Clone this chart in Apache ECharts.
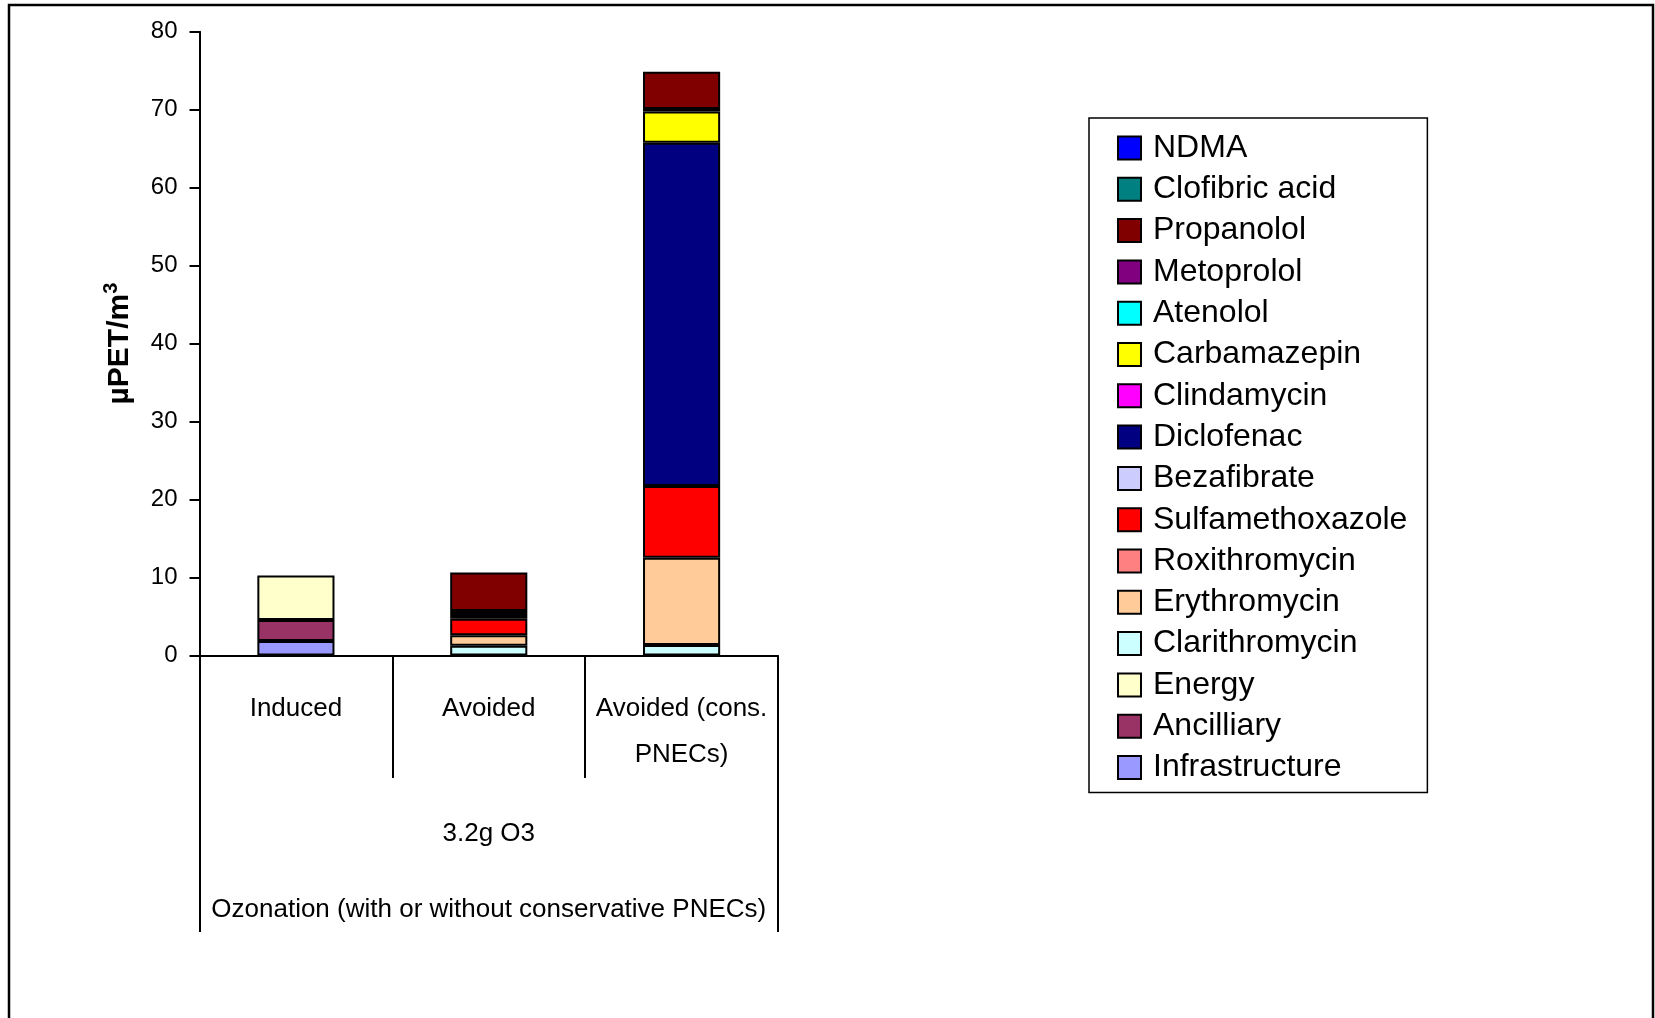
<!DOCTYPE html>
<html>
<head>
<meta charset="utf-8">
<script src="https://cdn.jsdelivr.net/npm/echarts@6/dist/echarts.min.js"></script>
<style>
  html, body { margin: 0; padding: 0; background: #fff; }
  #myechart { width: 1655px; height: 1018px; }
</style>
</head>
<body>
<div id="myechart"></div>
<script>
// categories (three levels on the x axis)
let categories = ["Induced", "Avoided", "Avoided (cons.\nPNECs)"];
let groupLabel = ["3.2g O3"];
let outerLabel = ["Ozonation (with or without conservative PNECs)"];

// y axis ticks
let yMin = 0;
let yMax = 80;
let yStep = 10;

// stacked values, bottom to top (null = nothing for that bar)
let infrastructure = [1.85, null, null];
let ancilliary = [2.7, null, null];
let energy = [5.7, null, null];
let clarithromycin = [null, 1.25, 1.35];
let erythromycin = [null, 1.35, 11.2];
let roxithromycin = [null, null, null];
let sulfamethoxazole = [null, 2.1, 9.2];
let bezafibrate = [null, null, null];
let diclofenac = [null, 0.5, 44.0];
let clindamycin = [null, null, null];
let carbamazepin = [null, 0.5, 4.0];
let atenolol = [null, null, null];
let metoprolol = [null, null, 0.35];
let propanolol = [null, 4.95, 4.75];
let clofibricAcid = [null, null, null];
let ndma = [null, null, null];

let font = "'Liberation Sans', Arial, sans-serif";

let stackList = [
    ["Infrastructure", infrastructure, "#9999FF"],
    ["Ancilliary", ancilliary, "#993366"],
    ["Energy", energy, "#FFFFCC"],
    ["Clarithromycin", clarithromycin, "#CCFFFF"],
    ["Erythromycin", erythromycin, "#FFCC99"],
    ["Roxithromycin", roxithromycin, "#FF8080"],
    ["Sulfamethoxazole", sulfamethoxazole, "#FF0000"],
    ["Bezafibrate", bezafibrate, "#CCCCFF"],
    ["Diclofenac", diclofenac, "#000080"],
    ["Clindamycin", clindamycin, "#FF00FF"],
    ["Carbamazepin", carbamazepin, "#FFFF00"],
    ["Atenolol", atenolol, "#00FFFF"],
    ["Metoprolol", metoprolol, "#800080"],
    ["Propanolol", propanolol, "#800000"],
    ["Clofibric acid", clofibricAcid, "#008080"],
    ["NDMA", ndma, "#0000FF"]
];

let series = stackList.map(function (s) {
    return {
        name: s[0],
        type: "bar",
        stack: "total",
        barWidth: "40%",
        xAxisIndex: 0,
        data: s[1],
        itemStyle: { color: s[2], borderColor: "#000", borderWidth: 2 }
    };
});

// legend lists top of stack first
let legendData = stackList.map(function (s) { return s[0]; }).reverse();

let option = {
    animation: false,
    backgroundColor: "#fff",
    graphic: [
        {
            type: "rect",
            shape: { x: 9, y: 5, width: 1644, height: 1040 },
            style: { fill: null, stroke: "#000", lineWidth: 2.5 },
            z: 0
        }
    ],
    grid: { left: 199.5, top: 31.7, right: 877, bottom: 362.5 },
    legend: {
        orient: "vertical",
        left: 1089,
        top: 118,
        data: legendData,
        icon: "rect",
        itemWidth: 23,
        itemHeight: 23,
        itemGap: 9.3,
        padding: [14, 20, 9, 28],
        borderColor: "#000",
        borderWidth: 1.5,
        backgroundColor: "#fff",
        textStyle: {
            fontFamily: font,
            fontSize: 32,
            color: "#000",
            padding: [0, 0, 0, 7]
        }
    },
    xAxis: [
        {
            type: "category",
            data: categories,
            position: "bottom",
            axisLine: { lineStyle: { color: "#000", width: 2 } },
            axisTick: { show: true, length: 122.5, lineStyle: { color: "#000", width: 2 } },
            axisLabel: {
                interval: 0,
                margin: 30.5,
                fontFamily: font,
                fontSize: 26,
                lineHeight: 46,
                color: "#000"
            }
        },
        {
            type: "category",
            data: groupLabel,
            position: "bottom",
            axisLine: { show: false },
            axisTick: { show: true, length: 276.5, lineStyle: { color: "#000", width: 2 } },
            axisLabel: {
                margin: 155.5,
                fontFamily: font,
                fontSize: 26,
                lineHeight: 46,
                color: "#000"
            }
        },
        {
            type: "category",
            data: outerLabel,
            position: "bottom",
            axisLine: { show: false },
            axisTick: { show: false },
            axisLabel: {
                margin: 231.5,
                fontFamily: font,
                fontSize: 26,
                lineHeight: 46,
                color: "#000"
            }
        }
    ],
    yAxis: {
        type: "value",
        min: yMin,
        max: yMax,
        interval: yStep,
        name: "{a|µPET/m}{b|3}",
        nameLocation: "middle",
        nameGap: 62,
        nameRotate: 90,
        nameTextStyle: {
            color: "#000",
            rich: {
                a: { fontFamily: font, fontWeight: "bold", fontSize: 30, lineHeight: 36, color: "#000" },
                b: { fontFamily: font, fontWeight: "bold", fontSize: 20, lineHeight: 36, verticalAlign: "top", color: "#000" }
            }
        },
        axisLine: { show: true, lineStyle: { color: "#000", width: 2 } },
        axisTick: { show: true, length: 10, lineStyle: { color: "#000", width: 2 } },
        splitLine: { show: false },
        axisLabel: {
            margin: 22,
            fontFamily: font,
            fontSize: 24,
            color: "#000"
        }
    },
    series: series
};

let myChart = echarts.init(document.getElementById("myechart"));
myChart.setOption(option);
</script>
</body>
</html>
